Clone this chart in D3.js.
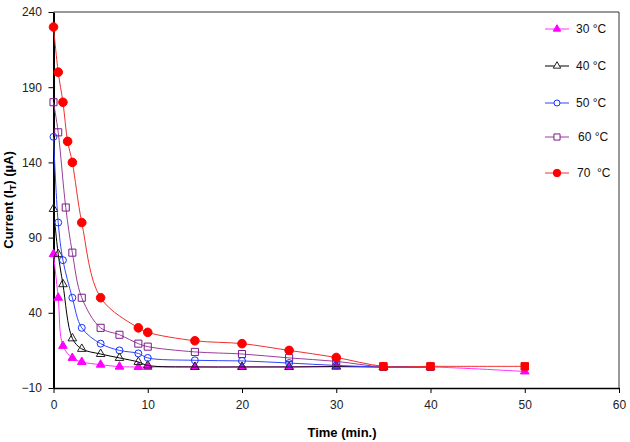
<!DOCTYPE html>
<html>
<head>
<meta charset="utf-8">
<script src="https://cdn.jsdelivr.net/npm/d3@7"></script>
<style>
  body { margin: 0; background: #fff; }
  svg { font-family: "Liberation Sans", Arial, sans-serif; }
</style>
</head>
<body>
<div id="plot"></div>
<script>
// data
const times30 = [0, 0.5, 1, 2, 3, 5, 7, 9, 10, 15, 20, 25, 30, 35, 40, 50];
const vals30  = [79, 50, 18, 10, 7.3, 5.5, 4.2, 4, 4, 4, 4, 4, 4.4, 4, 4, 1];

const times40 = [0, 0.5, 1, 2, 3, 5, 7, 9, 10, 15, 20, 25, 30, 35, 40];
const vals40  = [109, 79, 59, 23, 16, 12.6, 10, 7.3, 5, 4, 4, 4, 4.2, 4, 4];

const times50 = [0, 0.5, 1, 2, 3, 5, 7, 9, 10, 15, 20, 25, 30, 35, 40];
const vals50  = [157, 100, 75, 50, 30, 19.5, 15, 13, 10, 8.4, 8, 6.6, 5, 4, 4];

const times60 = [0, 0.5, 1.3, 2, 3, 5, 7, 9, 10, 15, 20, 25, 30, 35, 40];
const vals60  = [180, 160, 110, 80, 50, 30, 25.4, 19.5, 17.5, 14, 12.6, 10, 7.7, 4, 4];

const times70 = [0, 0.5, 1, 1.5, 2, 3, 5, 9, 10, 15, 20, 25, 30, 35, 40, 50];
const vals70  = [230, 200, 180, 154, 140, 100, 50, 30, 27, 21.4, 19.5, 15, 10.3, 4.4, 4.4, 4.4];

const seriesNames = ["30 \u00B0C", "40 \u00B0C", "50 \u00B0C", "60 \u00B0C", "70  \u00B0C"];
const xTicks = [0, 10, 20, 30, 40, 50, 60];
const yTicks = [-10, 40, 90, 140, 190, 240];

const width = 630, height = 442;
const margin = {top: 12, right: 11, bottom: 54, left: 53.5};
const w = width - margin.left - margin.right;
const h = height - margin.top - margin.bottom;

const series = [
  {name: seriesNames[0], t: times30, v: vals30, line: "#ff33ff", mark: "#ff00ff", shape: d3.symbolTriangle, fill: true, size: 32},
  {name: seriesNames[1], t: times40, v: vals40, line: "#000000", mark: "#222222", shape: d3.symbolTriangle, fill: false, size: 32},
  {name: seriesNames[2], t: times50, v: vals50, line: "#3344ff", mark: "#1133ff", shape: d3.symbolCircle, fill: false, size: 38},
  {name: seriesNames[3], t: times60, v: vals60, line: "#9a3d9a", mark: "#7a1a8a", shape: d3.symbolSquare, fill: false, size: 50},
  {name: seriesNames[4], t: times70, v: vals70, line: "#f03030", mark: "#ff0000", shape: d3.symbolCircle, fill: true, size: 58}
];

const svg = d3.select("#plot")
  .append("svg")
  .attr("width", width)
  .attr("height", height);

const g = svg.append("g")
  .attr("transform", "translate(" + margin.left + "," + margin.top + ")");

const x = d3.scaleLinear().domain([0, 60]).range([0, w]);
const y = d3.scaleLinear().domain([-10, 240]).range([h, 0]);

// frame top / right
g.append("path")
  .attr("d", "M0,0H" + w + "V" + h)
  .attr("fill", "none")
  .attr("stroke", "#333")
  .attr("stroke-width", 1);

// axes
const xAxis = g.append("g")
  .attr("transform", "translate(0," + h + ")")
  .call(d3.axisBottom(x).tickValues(xTicks).tickSize(5).tickSizeOuter(0));
xAxis.select(".domain").attr("stroke-width", 1.5);
xAxis.selectAll("text").attr("font-size", 12).attr("fill", "#222").attr("dy", "1.1em");

const yAxis = g.append("g")
  .call(d3.axisLeft(y).tickValues(yTicks).tickSize(5).tickSizeOuter(0));
yAxis.select(".domain").attr("stroke-width", 2);
yAxis.selectAll("text").attr("font-size", 12).attr("fill", "#222").attr("dx", "-0.3em");

// series
const line = d3.line()
  .x(d => x(d[0]))
  .y(d => y(d[1]))
  .curve(d3.curveCatmullRom.alpha(0.5));

series.forEach(function(s, i) {
  const pts = s.t.map((t, k) => [t, s.v[k]]);
  g.append("path")
    .datum(pts)
    .attr("d", line)
    .attr("fill", "none")
    .attr("stroke", s.line)
    .attr("stroke-width", 1);

  g.append("g")
    .selectAll("path")
    .data(pts)
    .enter()
    .append("path")
      .attr("transform", d => "translate(" + x(d[0]) + "," + y(d[1]) + ")")
      .attr("d", d => {
        // 70 C tail points are drawn as squares in the original
        if (i === 4 && d[0] >= 35) return d3.symbol(d3.symbolSquare, 56)();
        return d3.symbol(s.shape, s.size)();
      })
      .attr("fill", s.fill ? s.mark : "none")
      .attr("stroke", s.mark)
      .attr("stroke-width", 1);
});

// legend
const legend = svg.append("g");
const legY = [29, 66, 103, 137, 173];
const legTextX = [576, 576, 576, 578, 577];
series.forEach(function(s, i) {
  const row = legend.append("g").attr("transform", "translate(0," + legY[i] + ")");
  row.append("line")
    .attr("x1", 545).attr("x2", 569)
    .attr("stroke", s.line).attr("stroke-width", 1);
  row.append("path")
    .attr("transform", "translate(557,0)")
    .attr("d", d3.symbol(s.shape, s.size * 0.75)())
    .attr("fill", s.fill ? s.mark : "#fff")
    .attr("stroke", s.mark);
  row.append("text")
    .attr("x", legTextX[i])
    .attr("y", 4)
    .attr("font-size", 12)
    .attr("fill", "#111")
    .attr("xml:space", "preserve")
    .style("white-space", "pre")
    .text(s.name);
});

// axis titles
svg.append("text")
  .attr("x", 342)
  .attr("y", 437)
  .attr("text-anchor", "middle")
  .attr("font-size", 13)
  .attr("font-weight", "bold")
  .text("Time (min.)");

const yt = svg.append("text")
  .attr("transform", "translate(13," + 200 + ") rotate(-90)")
  .attr("text-anchor", "middle")
  .attr("font-size", 13)
  .attr("font-weight", "bold");
yt.append("tspan").text("Current (I");
yt.append("tspan").attr("font-size", 9).attr("dy", 3).text("T");
yt.append("tspan").attr("dy", -3).text(")  (\u00B5A)");
</script>
</body>
</html>
